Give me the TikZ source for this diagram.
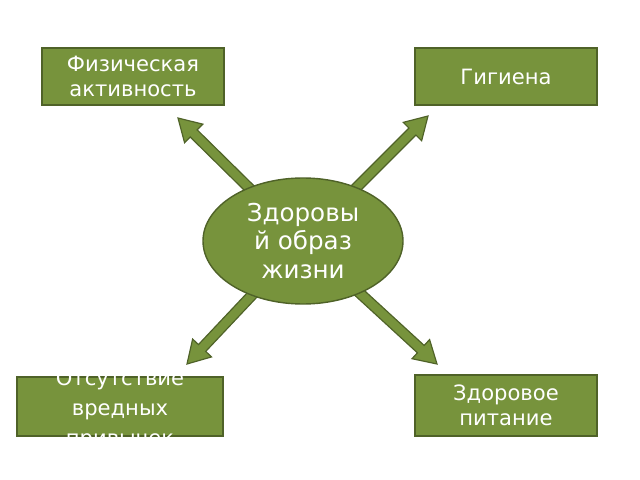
\documentclass[tikz,border=0pt]{standalone}
\usepackage{fontspec}
\setmainfont{DejaVu Sans}
\usetikzlibrary{calc,shapes.geometric}
\definecolor{olivefill}{HTML}{77933C}
\definecolor{oliveline}{HTML}{4F6228}
\tikzset{
  box/.style={draw=oliveline,line width=1.2pt,fill=olivefill,text=white,
    minimum width=5.46cm,minimum height=1.71cm,inner sep=0pt,align=center,
    font=\fontsize{18}{21}\selectfont},
  boxtext/.style={text=white,inner sep=0pt,align=center,font=\fontsize{18}{25.5}\selectfont},
  hub/.style={ellipse,draw=oliveline,line width=1.2pt,fill=olivefill,text=white,
    minimum width=6cm,minimum height=3.78cm,inner sep=0pt,align=center,
    font=\fontsize{21}{24.5}\selectfont},
  arrowbody/.style={fill=olivefill,draw=oliveline,line width=1pt,line join=miter}
}
\newcommand{\blockarrow}[2]{%
  \coordinate (bh) at ($(#2)!0.66cm!(#1)$);
  \filldraw[arrowbody] ($(#1)!0.15cm!90:(#2)$) -- ($(bh)!0.15cm!90:(#2)$)
    -- ($(bh)!0.39cm!90:(#2)$) -- (#2) -- ($(bh)!0.39cm!-90:(#2)$)
    -- ($(bh)!0.15cm!-90:(#2)$) -- ($(#1)!0.15cm!-90:(#2)$) -- cycle;}
\begin{document}
\begin{tikzpicture}[x=0.03cm,y=-0.03cm]
\useasboundingbox (0,0) rectangle (640,480);
\node[box] (sport) at (133,76.5) {Физическая\\активность};
\node[box] (hygiene) at (506,76.5) {Гигиена};
\node[box,minimum width=6.18cm,minimum height=1.77cm] (nohabits) at (120,406.5) {};
\node[boxtext] (nohabitstext) at (120,410) {Отсутствие\\вредных\\привычек};
\node[box,minimum height=1.83cm] (food) at (506,405.5) {Здоровое\\питание};
\coordinate (mid) at (303,241);
\coordinate (tipsport) at (178,118);
\coordinate (tiphygiene) at (428,116);
\coordinate (tipnohabits) at (187,364);
\coordinate (tipfood) at (437,364);
\blockarrow{mid}{tipsport}
\blockarrow{mid}{tiphygiene}
\blockarrow{mid}{tipnohabits}
\blockarrow{mid}{tipfood}
\node[hub] (hls) at (mid) {Здоровы\\й образ\\жизни};
\end{tikzpicture}
\end{document}
